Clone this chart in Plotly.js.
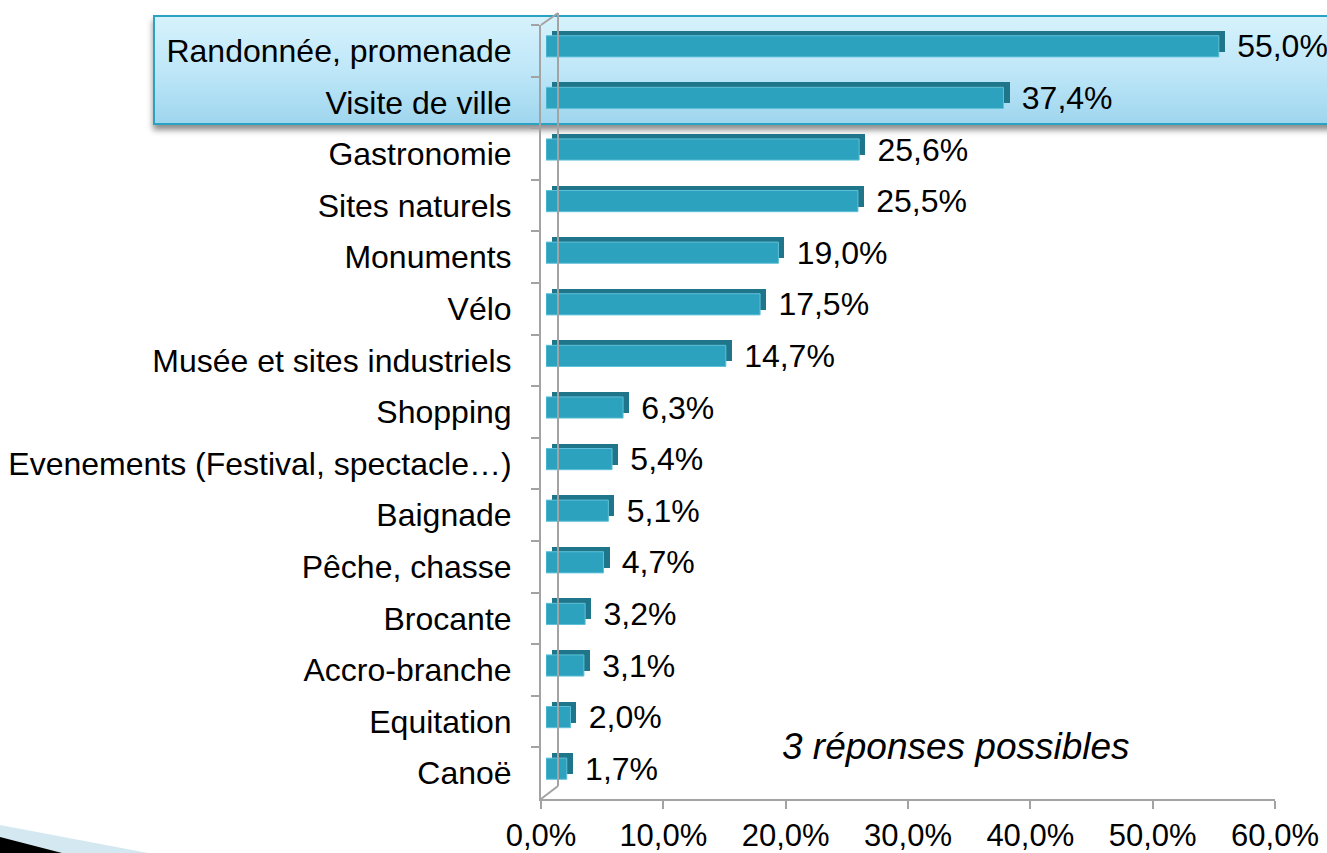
<!DOCTYPE html>
<html>
<head>
<meta charset="utf-8">
<script src="https://cdn.plot.ly/plotly-3.0.1.min.js"></script>
<style>
  html, body { margin: 0; padding: 0; background: #ffffff; }
  #wrap { position: relative; width: 1327px; height: 853px; overflow: hidden; background: #ffffff; }
  #hl { position: absolute; left: 153px; top: 15px; width: 1200px; height: 106px;
        border: 2px solid #2aa3c2;
        background: linear-gradient(to bottom, #d6f2fc 0%, #bfe7f8 50%, #9fd6ee 100%);
        box-shadow: 0 5px 6px rgba(0,0,0,0.45); }
  #chart { position: absolute; left: 0; top: 0; width: 1327px; height: 853px; }
  #wedge { position: absolute; left: 0; top: 0; width: 1327px; height: 853px; pointer-events: none; }
</style>
</head>
<body>
<div id="wrap">
  <div id="hl"></div>
  <div id="chart"></div>
  <svg id="wedge" width="1327" height="853">
    <polygon points="0,825 148,853 0,853" fill="#d4e8f1"/>
    <polygon points="0,837 62,853 0,853" fill="#000000"/>
  </svg>
</div>
<script>
// ---- data ----
const categories = [
  "Randonnée, promenade",
  "Visite de ville",
  "Gastronomie",
  "Sites naturels",
  "Monuments",
  "Vélo",
  "Musée et sites industriels",
  "Shopping",
  "Evenements (Festival, spectacle…)",
  "Baignade",
  "Pêche, chasse",
  "Brocante",
  "Accro-branche",
  "Equitation",
  "Canoë"
];
const values = [55.0, 37.4, 25.6, 25.5, 19.0, 17.5, 14.7, 6.3, 5.4, 5.1, 4.7, 3.2, 3.1, 2.0, 1.7];
const tickValues = [0, 10, 20, 30, 40, 50, 60];
const tickLabels = ["0,0%", "10,0%", "20,0%", "30,0%", "40,0%", "50,0%", "60,0%"];
const noteText = "3 réponses possibles";

// ---- layout helpers ----
const W = 1327, H = 853;
const px = x => x / W;
const py = y => 1 - y / H;
const FONT = "Liberation Sans, Arial, sans-serif";
const GRAY = "#a3a3a3";
const catRange = [categories.length - 0.5, -0.5];

const traces = [
  // axis carrier (invisible)
  { type: "bar", orientation: "h", y: categories, x: values, xaxis: "x", yaxis: "y",
    marker: { color: "rgba(0,0,0,0)" }, hoverinfo: "skip", width: 0.41, showlegend: false },
  // dark top/side face (back)
  { type: "bar", orientation: "h", y: categories, x: values, xaxis: "x2", yaxis: "y2",
    marker: { color: "#1f7589", line: { width: 0 } }, width: 0.41, showlegend: false,
    hoverinfo: "skip" },
  // front face with value labels
  { type: "bar", orientation: "h", y: categories, x: values, xaxis: "x3", yaxis: "y3",
    marker: { color: "#2ca2bf", line: { width: 1, color: "#5fc0d8" } }, width: 0.41, showlegend: false,
    texttemplate: " \u2009%{x:.1f}%", textposition: "outside", cliponaxis: false, constraintext: "none",
    outsidetextfont: { family: FONT, size: 32, color: "#000000" }, hoverinfo: "skip" }
];

const layout = {
  width: W, height: H,
  margin: { l: 0, r: 0, t: 0, b: 0 },
  paper_bgcolor: "rgba(0,0,0,0)",
  plot_bgcolor: "rgba(0,0,0,0)",
  separators: ", ",
  font: { family: FONT, color: "#000000" },
  showlegend: false,
  bargap: 0,
  xaxis: {
    domain: [px(541), px(1275)], range: [0, 60], anchor: "y",
    tickmode: "array", tickvals: tickValues, ticktext: tickLabels,
    showgrid: false, zeroline: false,
    showline: true, linecolor: GRAY, linewidth: 2,
    ticks: "outside", ticklen: 8, tickwidth: 2, tickcolor: GRAY,
    tickfont: { family: FONT, size: 31, color: "#000000" },
    ticklabelstandoff: 0
  },
  yaxis: {
    domain: [py(799), py(25)], type: "category", categoryorder: "array", categoryarray: categories,
    range: catRange, anchor: "x",
    showgrid: false, zeroline: false,
    showline: true, linecolor: GRAY, linewidth: 2,
    ticks: "outside", tickson: "boundaries", ticklen: 8, tickwidth: 2, tickcolor: GRAY,
    tickfont: { family: FONT, size: 32, color: "#000000" },
    ticklabelstandoff: 21
  },
  xaxis2: { domain: [px(552), px(1286)], range: [0, 60], anchor: "y2", visible: false },
  yaxis2: { domain: [py(789.5), py(15.5)], type: "category", categoryorder: "array",
            categoryarray: categories, range: catRange, anchor: "x2", visible: false },
  xaxis3: { domain: [px(546), px(1280)], range: [0, 60], anchor: "y3", visible: false },
  yaxis3: { domain: [py(794.5), py(20.5)], type: "category", categoryorder: "array",
            categoryarray: categories, range: catRange, anchor: "x3", visible: false },
  shapes: [
    { type: "line", xref: "paper", yref: "paper", x0: px(558), x1: px(558), y0: py(786), y1: py(13),
      line: { color: GRAY, width: 2 } },
    { type: "line", xref: "paper", yref: "paper", x0: px(541), x1: px(558), y0: py(25), y1: py(13),
      line: { color: GRAY, width: 2 } },
    { type: "line", xref: "paper", yref: "paper", x0: px(541), x1: px(558), y0: py(799), y1: py(786),
      line: { color: GRAY, width: 2 } }
  ],
  annotations: [
    { xref: "paper", yref: "paper", x: px(780), y: py(746), xanchor: "left", yanchor: "middle",
      text: noteText, showarrow: false,
      font: { family: FONT, size: 37, style: "italic", color: "#000000" } }
  ]
};

Plotly.newPlot("chart", traces, layout, { displayModeBar: false, staticPlot: true });
</script>
</body>
</html>
